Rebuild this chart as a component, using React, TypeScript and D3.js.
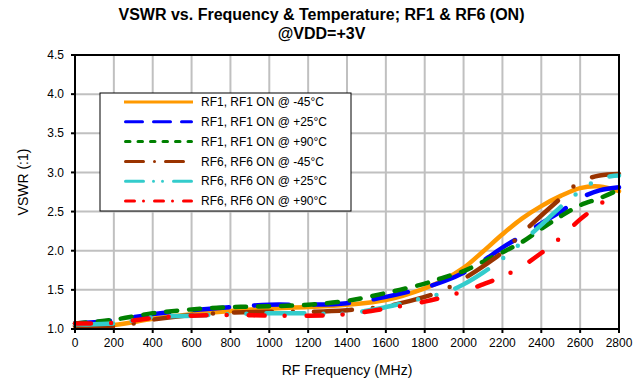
import React from 'react';
import * as d3 from 'd3';

// frequency points (MHz)
const freqs = [0, 200, 400, 600, 800, 1000, 1200, 1400, 1600, 1800, 1900, 2000, 2100, 2200, 2300, 2400, 2500, 2600, 2700, 2800];

const rf1Minus45 = [1.04, 1.05, 1.13, 1.19, 1.23, 1.26, 1.28, 1.31, 1.37, 1.52, 1.63, 1.78, 1.99, 2.21, 2.41, 2.57, 2.7, 2.8, 2.82, 2.76];
const rf1Plus25 = [1.07, 1.11, 1.19, 1.24, 1.28, 1.31, 1.31, 1.33, 1.41, 1.53, 1.61, 1.72, 1.87, 2.04, 2.19, 2.35, 2.5, 2.67, 2.77, 2.81];
const rf1Plus90 = [1.07, 1.12, 1.2, 1.25, 1.28, 1.29, 1.31, 1.36, 1.46, 1.58, 1.66, 1.74, 1.86, 1.98, 2.11, 2.28, 2.44, 2.58, 2.67, 2.78];
const rf6Minus45 = [1.04, 1.03, 1.12, 1.18, 1.21, 1.22, 1.22, 1.24, 1.29, 1.41, 1.5, 1.64, 1.8, 1.98, 2.22, 2.45, 2.67, 2.88, 2.96, 2.98];
const rf6Plus25 = [1.06, 1.07, 1.15, 1.17, 1.19, 1.2, 1.2, 1.2, 1.28, 1.4, 1.46, 1.57, 1.72, 1.9, 2.11, 2.33, 2.56, 2.76, 2.92, 2.96];
const rf6Plus90 = [1.07, 1.08, 1.14, 1.17, 1.18, 1.17, 1.17, 1.19, 1.26, 1.35, 1.41, 1.48, 1.57, 1.67, 1.8, 1.97, 2.17, 2.4, 2.59, 2.77];

const seriesNames = [
  'RF1, RF1 ON @ -45°C',
  'RF1, RF1 ON @ +25°C',
  'RF1, RF1 ON @ +90°C',
  'RF6, RF6 ON @ -45°C',
  'RF6, RF6 ON @ +25°C',
  'RF6, RF6 ON @ +90°C',
];
const seriesValues = [rf1Minus45, rf1Plus25, rf1Plus90, rf6Minus45, rf6Plus25, rf6Plus90];
const seriesColors = ['#ff9900', '#0000ff', '#008000', '#993300', '#33cccc', '#ff0000'];
// dash patterns: legend swatch (thin) and plotted lines (thick, twice as long)
const legendDash = ['none', '17 11', '4.5 8', '18 11 0 11', '18 10 0 9 0 11', '9 9 0 11'];
const chartDash = ['none', '35 25', '11 12', '38 21 0 21', '38 19 0 19 0 20', '16 20 0 22'];

const xTicks = d3.range(0, 2801, 200);
const yTicks = [1.0, 1.5, 2.0, 2.5, 3.0, 3.5, 4.0, 4.5];

export default function App() {
  const width = 643;
  const height = 385;
  const margin = { top: 55, right: 24, bottom: 56, left: 75 };
  const innerWidth = width - margin.left - margin.right;
  const innerHeight = height - margin.top - margin.bottom;

  const xScale = d3.scaleLinear().domain([0, 2800]).range([0, innerWidth]);
  const yScale = d3.scaleLinear().domain([1, 4.5]).range([innerHeight, 0]);

  const line = d3.line<number>()
    .x((d, i) => xScale(freqs[i]))
    .y(d => yScale(d))
    .curve(d3.curveCatmullRom.alpha(0.5));

  const font = "'Liberation Sans', Arial, sans-serif";
  const legendX = 100 - margin.left;
  const legendY = 93 - margin.top;

  return (
    <svg width={width} height={height} style={{ position: 'absolute', left: 0, top: 0, background: '#fff' }} fontFamily={font}>
      <text x={width / 2} y={19.5} textAnchor="middle" fontSize="16" fontWeight="bold">
        VSWR vs. Frequency &amp; Temperature; RF1 &amp; RF6 (ON)
      </text>
      <text x={width / 2} y={38.5} textAnchor="middle" fontSize="16" fontWeight="bold">
        @VDD=+3V
      </text>
      <g transform={`translate(${margin.left}, ${margin.top})`}>
        {/* grid */}
        {xTicks.filter(t => t > 0 && t < 2800).map(t => (
          <line key={'gx' + t} x1={xScale(t)} x2={xScale(t)} y1={0} y2={innerHeight} stroke="#c0c0c0" strokeWidth={2} />
        ))}
        {yTicks.filter(t => t > 1 && t < 4.5).map(t => (
          <line key={'gy' + t} x1={0} x2={innerWidth} y1={yScale(t)} y2={yScale(t)} stroke="#c0c0c0" strokeWidth={2} />
        ))}
        {/* series */}
        {seriesValues.map((vals, i) => (
          <path
            key={seriesNames[i]}
            d={line(vals) || ''}
            fill="none"
            stroke={seriesColors[i]}
            strokeWidth={4.5}
            strokeDasharray={chartDash[i]}
            strokeLinecap="round"
          />
        ))}
        {/* frame */}
        <rect x={0} y={0} width={innerWidth} height={innerHeight} fill="none" stroke="#000" strokeWidth={2} />
        {/* axes ticks */}
        {yTicks.map(t => (
          <g key={'yt' + t}>
            <line x1={-4} x2={0} y1={yScale(t)} y2={yScale(t)} stroke="#000" strokeWidth={2} />
            <text x={-11} y={yScale(t)} dy="0.35em" textAnchor="end" fontSize="12">{d3.format('.1f')(t)}</text>
          </g>
        ))}
        {xTicks.map(t => (
          <g key={'xt' + t}>
            <line x1={xScale(t)} x2={xScale(t)} y1={innerHeight} y2={innerHeight + 4} stroke="#000" strokeWidth={2} />
            <text x={xScale(t)} y={innerHeight + 18} textAnchor="middle" fontSize="12">{t}</text>
          </g>
        ))}
        {/* legend */}
        <rect x={legendX} y={legendY} width={251} height={118} fill="#fff" stroke="#000" strokeWidth={1} />
        {seriesNames.map((name, i) => (
          <g key={'lg' + i} transform={`translate(${legendX}, ${legendY + 9 + i * 19.8})`}>
            <line x1={i === 0 ? 24 : 25.5} x2={i === 0 ? 93 : 91.5} y1={0} y2={0} stroke={seriesColors[i]} strokeWidth={3}
              strokeDasharray={legendDash[i]} strokeLinecap={i === 0 ? 'butt' : 'round'} />
            <text x={101} y={0} dy="0.35em" fontSize="12">{name}</text>
          </g>
        ))}
      </g>
      <text x={margin.left + innerWidth / 2} y={375} textAnchor="middle" fontSize="14">RF Frequency (MHz)</text>
      <text transform={`translate(28, 182) rotate(-90)`} textAnchor="middle" fontSize="14">VSWR (:1)</text>
    </svg>
  );
}
